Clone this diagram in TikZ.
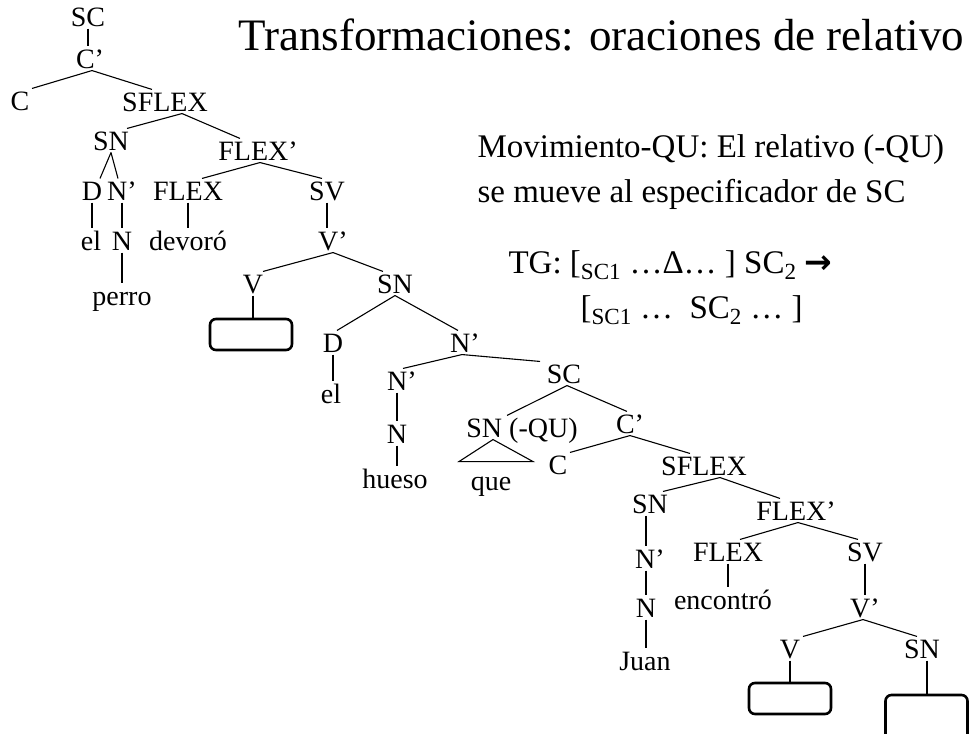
\documentclass[tikz,border=0pt]{standalone}
\usepackage{fontspec}
\setmainfont{Liberation Serif}
\newfontfamily\arrowfont{DejaVu Sans}
\usepackage{tikz}
\usetikzlibrary{shapes,arrows}

\tikzset{
  lbl/.style={anchor=base, inner sep=2pt, font=\fontsize{28}{30}\selectfont, text height=19pt, text depth=0pt},
  slot/.style={draw, rounded corners=6pt, line width=2.6pt, minimum width=82pt, minimum height=31pt, inner sep=0pt},
  txt/.style={anchor=base west, inner sep=0pt, font=\fontsize{33}{36}\selectfont},
}

\begin{document}
\begin{tikzpicture}[x=1pt, y=-1pt, line width=1.1pt]
\useasboundingbox (0,0) rectangle (970,734);
\clip (0,0) rectangle (970,734);
%%% The title and the explanation on the right
\node[txt, font=\fontsize{45}{48}\selectfont] (title) at (238, 50) {Transformaciones: oraciones de relativo};
\node[txt] (mov1) at (477, 157) {Movimiento-QU: El relativo (-QU)};
\node[txt] (mov2) at (477, 202) {se mueve al especificador de SC};
\node[txt] (tg1) at (508, 273) {TG: [\textsubscript{SC1} …Δ… ] SC\textsubscript{2} {\arrowfont\bfseries →}};
\node[txt] (tg2) at (580, 318) {[\textsubscript{SC1} …\ \ SC\textsubscript{2} … ]};
%%% The nodes of the main clause
\node[lbl] (sc1) at (88, 26) {SC};
\node[lbl] (cbar1) at (90, 68) {C’};
\node[lbl] (c1) at (20, 110) {C};
\node[lbl] (sflex1) at (165, 111) {SFLEX};
\node[lbl] (sn1) at (111, 150) {SN};
\node[lbl] (flexbar1) at (258, 160) {FLEX’};
\node[lbl] (d1) at (92, 200) {D};
\node[lbl] (nbar1) at (122, 200) {N’};
\node[lbl] (flex1) at (188, 200) {FLEX};
\node[lbl] (sv1) at (327, 200) {SV};
\node[lbl] (el1) at (91, 250) {el};
\node[lbl] (n1) at (122, 250) {N};
\node[lbl] (devoro) at (188, 250) {devoró};
\node[lbl] (vbar1) at (333, 250) {V’};
\node[lbl] (perro) at (122, 305) {perro};
\node[lbl] (v1) at (253, 293) {V};
\node[lbl] (sn2) at (395, 293) {SN};
\node[slot] (box1) at (251, 334.5) {};
%%% The nodes of the object with the relative clause
\node[lbl] (d2) at (333, 352) {D};
\node[lbl] (nbar2) at (465, 352) {N’};
\node[lbl] (el2) at (331, 403) {el};
\node[lbl] (nbar3) at (402, 390) {N’};
\node[lbl] (sc2) at (564, 383) {SC};
\node[lbl] (n2) at (397, 443) {N};
\node[lbl] (hueso) at (395, 488) {hueso};
\node[lbl] (snqu) at (522, 437) {SN (-QU)};
\node[lbl] (que) at (491, 490) {que};
\node[lbl] (cbar2) at (630, 433) {C’};
\node[lbl] (c2) at (558, 474) {C};
\node[lbl] (sflex2) at (704, 475) {SFLEX};
\node[lbl] (sn3) at (650, 513) {SN};
\node[lbl] (flexbar2) at (796, 520) {FLEX’};
\node[lbl] (nbar4) at (650, 568) {N’};
\node[lbl] (flex2) at (728, 561) {FLEX};
\node[lbl] (sv2) at (865, 561) {SV};
\node[lbl] (n3) at (646, 617) {N};
\node[lbl] (encontro) at (723, 609) {encontró};
\node[lbl] (vbar2) at (865, 617) {V’};
\node[lbl] (juan) at (645, 670) {Juan};
\node[lbl] (v2) at (790, 658) {V};
\node[lbl] (sn4) at (922, 658) {SN};
\node[slot] (box2) at (790, 698.5) {};
\node[slot, minimum height=50pt] (box3) at (926.5, 720) {};
%%% The branches of the main clause
\draw (sc1.south) -- (sc1.south |- cbar1.north);
\draw ([xshift=2pt]cbar1.south) -- ([xshift=12pt]c1.north);
\draw ([xshift=2pt]cbar1.south) -- ([xshift=-13pt]sflex1.north);
\draw ([xshift=17pt]sflex1.south) -- ([xshift=16pt]sn1.north);
\draw ([xshift=17pt]sflex1.south) -- ([xshift=-18pt]flexbar1.north);
\draw (sn1.south) -- ([xshift=8pt]d1.north);
\draw (sn1.south) -- ([xshift=-4pt]nbar1.north);
\draw ([xshift=2pt]flexbar1.south) -- ([xshift=14pt]flex1.north);
\draw ([xshift=2pt]flexbar1.south) -- ([xshift=-5pt]sv1.north);
\draw (d1.south) -- (d1.south |- el1.north);
\draw (nbar1.south) -- (nbar1.south |- n1.north);
\draw (n1.south) -- (n1.south |- perro.north);
\draw (flex1.south) -- (flex1.south |- devoro.north);
\draw (sv1.south) -- (sv1.south |- vbar1.north);
\draw (vbar1.south) -- ([xshift=10pt]v1.north);
\draw (vbar1.south) -- ([xshift=-12pt]sn2.north);
\draw (v1.south) -- (v1.south |- box1.north);
%%% The branches of the object and of the relative clause
\draw (sn2.south) -- ([xshift=4pt]d2.north);
\draw (sn2.south) -- ([xshift=-7pt]nbar2.north);
\draw (d2.south) -- (d2.south |- el2.north);
\draw ([xshift=-3pt]nbar2.south) -- ([xshift=1pt]nbar3.north);
\draw ([xshift=-3pt]nbar2.south) -- ([xshift=-24pt]sc2.north);
\draw (n2.south |- nbar3.south) -- (n2.north);
\draw (n2.south) -- (n2.south |- hueso.north);
\draw ([xshift=3pt]sc2.south) -- ([xshift=-15pt]snqu.north);
\draw ([xshift=3pt]sc2.south) -- ([xshift=-3pt]cbar2.north);
\draw ([xshift=-29pt]snqu.south) -- ++(-34, 22) -- ++(74, 0) -- cycle;
\draw (cbar2.south) -- ([xshift=12pt]c2.north);
\draw (cbar2.south) -- ([xshift=-14pt]sflex2.north);
\draw ([xshift=16pt]sflex2.south) -- ([xshift=13pt]sn3.north);
\draw ([xshift=16pt]sflex2.south) -- ([xshift=-16pt]flexbar2.north);
\draw ([xshift=-4pt]sn3.south) -- ([xshift=-4pt]sn3.south |- nbar4.north);
\draw ([xshift=-4pt]nbar4.south) -- ([xshift=-4pt]nbar4.south |- n3.north);
\draw (n3.south) -- (n3.south |- juan.north);
\draw ([xshift=2pt]flexbar2.south) -- ([xshift=12pt]flex2.north);
\draw ([xshift=2pt]flexbar2.south) -- ([xshift=-7pt]sv2.north);
\draw (flex2.south) -- (flex2.south |- encontro.north);
\draw (sv2.south) -- (sv2.south |- vbar2.north);
\draw ([xshift=-2pt]vbar2.south) -- ([xshift=13pt]v2.north);
\draw ([xshift=-2pt]vbar2.south) -- ([xshift=-5pt]sn4.north);
\draw (v2.south) -- (v2.south |- box2.north);
\draw ([xshift=5pt]sn4.south) -- ([xshift=5pt]sn4.south |- box3.north);
\end{tikzpicture}
\end{document}
